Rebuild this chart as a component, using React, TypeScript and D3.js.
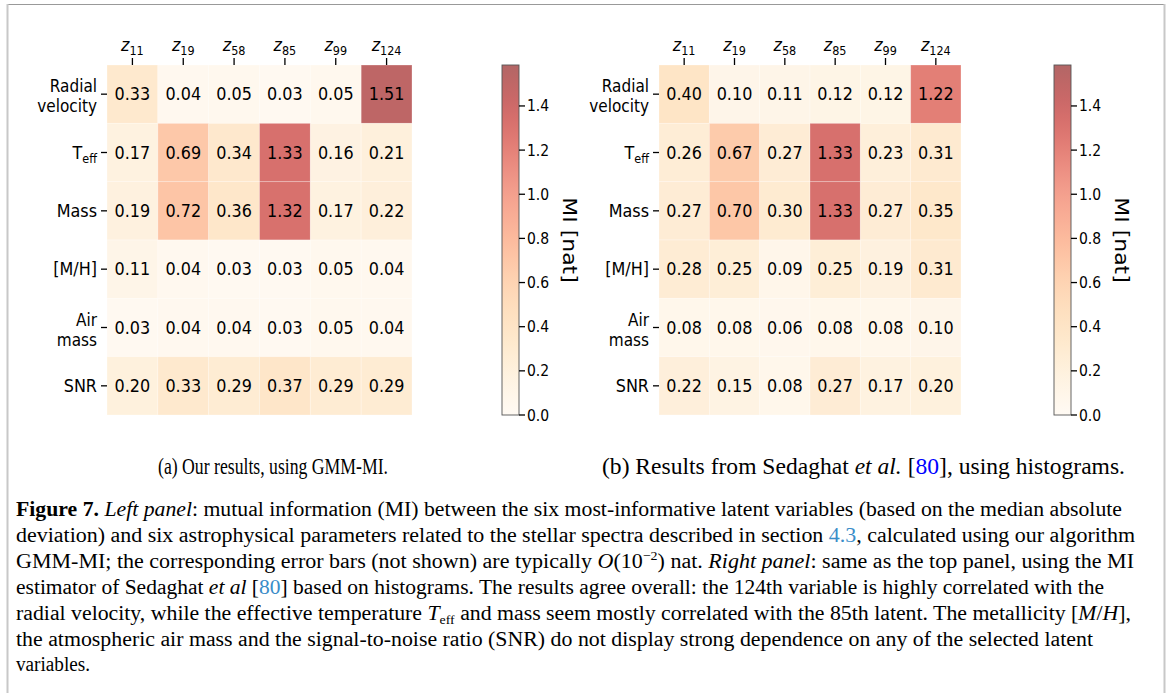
import React from 'react'
import * as d3 from 'd3'

const W = 1167
const H = 693

const latents = ['11', '19', '58', '85', '99', '124']
const params = ['Radial velocity', 'Teff', 'Mass', '[M/H]', 'Air mass', 'SNR']

// MI values (rows = params, cols = latents)
const gmmValues = [
	[0.33, 0.04, 0.05, 0.03, 0.05, 1.51],
	[0.17, 0.69, 0.34, 1.33, 0.16, 0.21],
	[0.19, 0.72, 0.36, 1.32, 0.17, 0.22],
	[0.11, 0.04, 0.03, 0.03, 0.05, 0.04],
	[0.03, 0.04, 0.04, 0.03, 0.05, 0.04],
	[0.20, 0.33, 0.29, 0.37, 0.29, 0.29],
]
const histValues = [
	[0.40, 0.10, 0.11, 0.12, 0.12, 1.22],
	[0.26, 0.67, 0.27, 1.33, 0.23, 0.31],
	[0.27, 0.70, 0.30, 1.33, 0.27, 0.35],
	[0.28, 0.25, 0.09, 0.25, 0.19, 0.31],
	[0.08, 0.08, 0.06, 0.08, 0.08, 0.10],
	[0.22, 0.15, 0.08, 0.27, 0.17, 0.20],
]
const cbTicks = [0, 0.2, 0.4, 0.6, 0.8, 1.0, 1.2, 1.4]
const VMAX = 1.5855

const color = d3.scaleSequential(d3.interpolateOrRd).domain([0, VMAX])
const ALPHA = 0.6
const SQ = 0.9
const FONT = 'DejaVu Sans, sans-serif'
const SERIF = 'Liberation Serif, DejaVu Serif, serif'

const top = 65
const bottom = 415

function Sq({ x, y, anchor = 'start', size = 17.8, children }: any) {
	return (
		<text transform={`translate(${x},${y}) scale(${SQ},1)`} textAnchor={anchor}
			fontFamily={FONT} fontSize={size} fill="#000">{children}</text>
	)
}

function RowLabel({ name, x, y }: any) {
	if (name === 'Teff') {
		return <Sq x={x} y={y + 6} anchor="end">T<tspan fontSize={12.5} dy={4}>eff</tspan></Sq>
	}
	const parts = name === 'Radial velocity' ? ['Radial', 'velocity'] : name === 'Air mass' ? ['Air', 'mass'] : [name]
	if (parts.length === 2) {
		return (
			<g>
				<Sq x={x} y={y - 2} anchor="end" size={17}>{parts[0]}</Sq>
				<Sq x={x} y={y + 18} anchor="end" size={17}>{parts[1]}</Sq>
			</g>
		)
	}
	return <Sq x={x} y={y + 6} anchor="end">{name}</Sq>
}

function Panel({ id, values, gx0, gx1, cbx }: any) {
	const xs = d3.scaleBand().domain(latents).range([gx0, gx1])
	const ys = d3.scaleBand().domain(params).range([top, bottom])
	const cb = d3.scaleLinear().domain([0, VMAX]).range([bottom, top])
	const cbw = 17
	const stops = d3.range(0, 1.0001, 0.05)

	return (
		<g>
			<defs>
				<linearGradient id={id} x1="0" y1="1" x2="0" y2="0">
					{stops.map(t => (
						<stop key={t} offset={t} stopColor={color(t * VMAX)} stopOpacity={ALPHA} />
					))}
				</linearGradient>
			</defs>

			{/* cells */}
			{values.map((row: number[], i: number) => row.map((v, j) => (
				<g key={`${i}-${j}`}>
					<rect x={xs(latents[j])} y={ys(params[i])} width={xs.bandwidth()} height={ys.bandwidth()}
						fill={color(v)} fillOpacity={ALPHA} stroke="#fff" strokeOpacity={0.35} strokeWidth={0.8} />
					<Sq x={xs(latents[j])! + xs.bandwidth() / 2} y={ys(params[i])! + ys.bandwidth() / 2 + 6.3} anchor="middle">
						{v.toFixed(2)}
					</Sq>
				</g>
			)))}

			{/* column ticks + labels */}
			{latents.map(l => {
				const cx = xs(l)! + xs.bandwidth() / 2
				return (
					<g key={l}>
						<line x1={cx} x2={cx} y1={top - 7} y2={top} stroke="#000" strokeWidth={1.3} />
						<Sq x={cx} y={51} anchor="middle">
							<tspan fontStyle="italic">z</tspan><tspan fontSize={12.5} dy={4}>{l}</tspan>
						</Sq>
					</g>
				)
			})}

			{/* row ticks + labels */}
			{params.map(p => {
				const cy = ys(p)! + ys.bandwidth() / 2
				return (
					<g key={p}>
						<line x1={gx0 - 6} x2={gx0} y1={cy} y2={cy} stroke="#000" strokeWidth={1.3} />
						<RowLabel name={p} x={gx0 - 10} y={cy} />
					</g>
				)
			})}

			{/* colorbar */}
			<rect x={cbx} y={top} width={cbw} height={bottom - top} fill={`url(#${id})`} stroke="#555" strokeWidth={0.9} />
			{cbTicks.map(t => (
				<g key={t}>
					<line x1={cbx + cbw} x2={cbx + cbw + 6} y1={cb(t)} y2={cb(t)} stroke="#000" strokeWidth={1.3} />
					<Sq x={cbx + cbw + 8} y={cb(t) + 5.5} size={15.5}>{t.toFixed(1)}</Sq>
				</g>
			))}
			<text transform={`translate(${cbx + 61},${(top + bottom) / 2}) rotate(90) scale(1,${SQ})`}
				textAnchor="middle" fontFamily={FONT} fontSize={22} fill="#000">MI [nat]</text>
		</g>
	)
}

const blue = '#3a8dc9'

export default function App() {
	return (
		<svg width={W} height={H} style={{ position: 'absolute', left: 0, top: 0, background: '#fff' }}>
			{/* frame */}
			<line x1={7} x2={1165} y1={4.5} y2={4.5} stroke="#999" strokeWidth={1.2} />
			<line x1={7.5} x2={7.5} y1={4} y2={H} stroke="#c8c8c8" strokeWidth={2} />
			<line x1={1164.5} x2={1164.5} y1={4} y2={H} stroke="#c8c8c8" strokeWidth={2} />

			<Panel id="cbL" values={gmmValues} gx0={107} gx1={412} cbx={502} />
			<Panel id="cbR" values={histValues} gx0={659} gx1={961} cbx={1054} />

			{/* sub captions */}
			<text x={158} y={474} fontFamily={SERIF} fontSize={23} textLength={230} lengthAdjust="spacingAndGlyphs">
				(a) Our results, using GMM-MI.
			</text>
			<text x={602} y={474} fontFamily={SERIF} fontSize={24} textLength={523} lengthAdjust="spacingAndGlyphs">
				(b) Results from Sedaghat <tspan fontStyle="italic">et al.</tspan> [<tspan fill="#0000ff">80</tspan>], using histograms.
			</text>

			{/* figure caption */}
			<g fontFamily={SERIF} fontSize={20.5} fill="#000">
				<text x={16} y={516} textLength={1106} lengthAdjust="spacingAndGlyphs">
					<tspan fontWeight="bold">Figure 7.</tspan> <tspan fontStyle="italic">Left panel</tspan>: mutual information (MI) between the six most-informative latent variables (based on the median absolute
				</text>
				<text x={16} y={542} textLength={1119} lengthAdjust="spacingAndGlyphs">
					deviation) and six astrophysical parameters related to the stellar spectra described in section <tspan fill={blue}>4.3</tspan>, calculated using our algorithm
				</text>
				<text x={16} y={568} textLength={1118} lengthAdjust="spacingAndGlyphs">
					GMM-MI; the corresponding error bars (not shown) are typically <tspan fontStyle="italic">O</tspan>(10<tspan fontSize={13} dy={-8}>−2</tspan><tspan dy={8}>) nat. </tspan><tspan fontStyle="italic">Right panel</tspan>: same as the top panel, using the MI
				</text>
				<text x={16} y={594} textLength={1088} lengthAdjust="spacingAndGlyphs">
					estimator of Sedaghat <tspan fontStyle="italic">et al</tspan> [<tspan fill={blue}>80</tspan>] based on histograms. The results agree overall: the 124th variable is highly correlated with the
				</text>
				<text x={16} y={620} textLength={1115} lengthAdjust="spacingAndGlyphs">
					radial velocity, while the effective temperature <tspan fontStyle="italic">T</tspan><tspan fontSize={13} dy={4}>eff</tspan><tspan dy={-4}> and mass seem mostly correlated with the 85th latent. The metallicity [</tspan><tspan fontStyle="italic">M</tspan>/<tspan fontStyle="italic">H</tspan>],
				</text>
				<text x={16} y={646} textLength={1077} lengthAdjust="spacingAndGlyphs">
					the atmospheric air mass and the signal-to-noise ratio (SNR) do not display strong dependence on any of the selected latent
				</text>
				<text x={16} y={671} textLength={74} lengthAdjust="spacingAndGlyphs">
					variables.
				</text>
			</g>
		</svg>
	)
}
